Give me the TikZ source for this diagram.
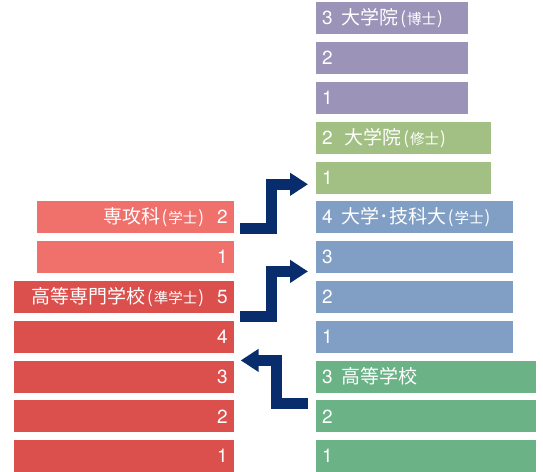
\documentclass[tikz,border=0pt]{standalone}
\usepackage{fontspec}
\setmainfont{TeX Gyre Heros}
\newfontfamily\jp{Noto Sans CJK JP}
\usetikzlibrary{arrows.meta}

% Colours of the school stages
\definecolor{phdpurple}{HTML}{9B93B8}
\definecolor{mastergreen}{HTML}{A2C084}
\definecolor{univblue}{HTML}{819FC4}
\definecolor{hsgreen}{HTML}{6BB287}
\definecolor{advred}{HTML}{F0706C}
\definecolor{kosenred}{HTML}{DB4F4C}
\definecolor{flownavy}{HTML}{082C6C}

% Degree in small type, between brackets
\newcommand{\degree}[1]{{\fontsize{17}{17}\selectfont\hspace{1.5pt}(\hspace{1pt}{\fontsize{14.5}{14.5}\selectfont #1}\hspace{1pt})}}
\newcommand{\sep}{\hspace{9pt}}

\begin{document}
\begin{tikzpicture}[x=1pt, y=-1pt,
    bar/.style={rectangle, minimum height=32pt, inner xsep=6pt, inner ysep=0pt,
        text=white, font=\fontsize{19}{19}\selectfont},
    rbar/.style={bar, anchor=north west, align=left, text width=#1},
    lbar/.style={bar, anchor=north east, align=right, text width=#1},
    flow/.style={draw=flownavy, line width=11pt, -{Triangle[length=18pt,width=22pt]}}]

    % Layout parameters
    \def\pitch{39.8} % distance from one row to the next
    \def\ybase{440}  % top of the lowest row
    \def\rx{316}     % left edge of the right column
    \def\lx{234}     % right edge of the left column

    \useasboundingbox (0,0) rectangle (543,471);

    % Right column: graduate school (doctor)
    \node[rbar=140pt, fill=phdpurple] (phd3) at (\rx, \ybase-11*\pitch) {3\sep{\jp 大学院\degree{博士}}};
    \node[rbar=140pt, fill=phdpurple] (phd2) at (\rx, \ybase-10*\pitch) {2};
    \node[rbar=140pt, fill=phdpurple] (phd1) at (\rx, \ybase-9*\pitch) {1};

    % Right column: graduate school (master)
    \node[rbar=163pt, fill=mastergreen] (ms2) at (\rx, \ybase-8*\pitch) {2\hspace{12pt}{\jp 大学院\degree{修士}}};
    \node[rbar=163pt, fill=mastergreen] (ms1) at (\rx, \ybase-7*\pitch) {1};

    % Right column: university
    \node[rbar=185pt, fill=univblue] (univ4) at (\rx, \ybase-6*\pitch) {4\sep{\jp 大学･技科大\degree{学士}}};
    \node[rbar=185pt, fill=univblue] (univ3) at (\rx, \ybase-5*\pitch) {3};
    \node[rbar=185pt, fill=univblue] (univ2) at (\rx, \ybase-4*\pitch) {2};
    \node[rbar=185pt, fill=univblue] (univ1) at (\rx, \ybase-3*\pitch) {1};

    % Right column: high school
    \node[rbar=208pt, fill=hsgreen] (hs3) at (\rx, \ybase-2*\pitch) {3\sep{\jp 高等学校}};
    \node[rbar=208pt, fill=hsgreen] (hs2) at (\rx, \ybase-\pitch) {2};
    \node[rbar=208pt, fill=hsgreen] (hs1) at (\rx, \ybase) {1};

    % Left column: advanced course
    \node[lbar=185pt, fill=advred] (adv2) at (\lx, \ybase-6*\pitch) {{\jp 専攻科\degree{学士}}\hspace{13pt}2};
    \node[lbar=185pt, fill=advred] (adv1) at (\lx, \ybase-5*\pitch) {1};

    % Left column: college of technology
    \node[lbar=208pt, fill=kosenred] (kosen5) at (\lx, \ybase-4*\pitch) {{\jp 高等専門学校\degree{準学士}}\hspace{13pt}5};
    \node[lbar=208pt, fill=kosenred] (kosen4) at (\lx, \ybase-3*\pitch) {4};
    \node[lbar=208pt, fill=kosenred] (kosen3) at (\lx, \ybase-2*\pitch) {3};
    \node[lbar=208pt, fill=kosenred] (kosen2) at (\lx, \ybase-\pitch) {2};
    \node[lbar=208pt, fill=kosenred] (kosen1) at (\lx, \ybase) {1};

    % Arrow ends
    \coordinate (a1s) at ([xshift=6pt,yshift=5pt]adv2.south east);
    \coordinate (a1e) at ([xshift=-8pt,yshift=9.5pt]ms1.south west);
    \coordinate (a2s) at ([xshift=6pt,yshift=-3.3pt]kosen5.south east);
    \coordinate (a2e) at ([xshift=-8pt,yshift=2pt]univ3.south west);
    \coordinate (a3s) at ([xshift=-8pt,yshift=-3pt]hs2.north west);
    \coordinate (a3e) at ([xshift=6.7pt]kosen3.north east);

    % Transfer arrows
    \draw[flow] (a1s) -- ++(31,0) |- (a1e);
    \draw[flow] (a2s) -- ++(31,0) |- (a2e);
    \draw[flow] (a3s) -- ++(-31.5,0) |- (a3e);
\end{tikzpicture}
\end{document}
